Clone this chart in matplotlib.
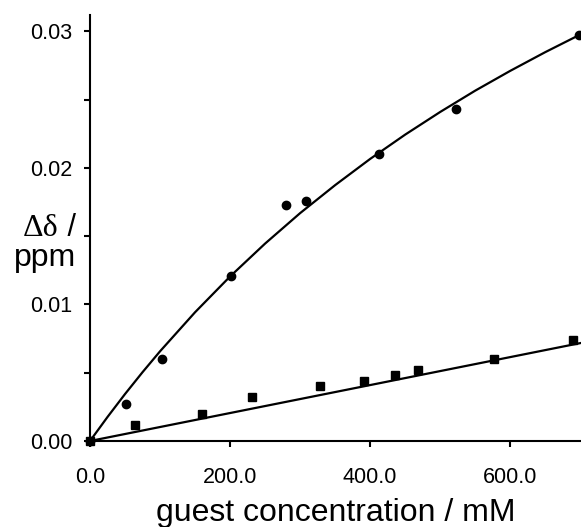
import matplotlib
matplotlib.use("Agg")
import matplotlib.pyplot as plt
from matplotlib.ticker import FormatStrFormatter, MultipleLocator

plt.rcParams["font.family"] = ["Liberation Sans", "DejaVu Sans"]

# circles (upper series)
circ_x = [0, 52, 103, 201, 280, 308, 412, 522, 698]
circ_y = [0.0, 0.0027, 0.0060, 0.0121, 0.0173, 0.0176, 0.0210, 0.0243, 0.0297]

# fitted curve through the circles
fit_x = [0, 25, 50, 75, 100, 150, 200, 250, 300, 350, 400, 450, 500, 550, 600, 650, 698]
fit_y = [0.0, 0.00176, 0.00344, 0.00504, 0.00657, 0.00943, 0.01205, 0.01446, 0.01669,
         0.01874, 0.02066, 0.02244, 0.0241, 0.02566, 0.02711, 0.02848, 0.02972]

# squares (lower series)
sq_x = [0, 64, 160, 231, 328, 391, 435, 468, 577, 690]
sq_y = [0.0, 0.0012, 0.0020, 0.0032, 0.0040, 0.0044, 0.0048, 0.0052, 0.0060, 0.0074]
sq_fit_x = [0, 700]
sq_fit_y = [0.0, 0.00717]

fig = plt.figure(figsize=(5.81, 5.27), dpi=100)
ax = fig.add_axes([90 / 581, 1 - 441 / 527, 491 / 581, 426 / 527])

ax.plot(fit_x, fit_y, color="black", lw=1.6)
ax.plot(sq_fit_x, sq_fit_y, color="black", lw=1.6)
ax.plot(circ_x, circ_y, "o", color="black", ms=6, clip_on=False)
ax.plot(sq_x, sq_y, "s", color="black", ms=5.5, clip_on=False)

ax.set_xlim(0, 701)
ax.set_ylim(0, 0.0312)
for s in ["top", "right"]:
    ax.spines[s].set_visible(False)
for s in ["left", "bottom"]:
    ax.spines[s].set_linewidth(1.5)

ax.xaxis.set_major_locator(MultipleLocator(200))
ax.xaxis.set_major_formatter(FormatStrFormatter("%.1f"))
ax.yaxis.set_major_locator(MultipleLocator(0.01))
ax.yaxis.set_minor_locator(MultipleLocator(0.005))
ax.yaxis.set_major_formatter(FormatStrFormatter("%.2f"))
ax.tick_params(axis="both", which="both", direction="out", length=4.5, width=1.5, labelsize=15.5)
ax.tick_params(axis="x", pad=14.5)
ax.tick_params(axis="y", pad=8)

ax.set_xlabel("guest concentration / mM", fontsize=23, labelpad=7)

fig.text(58 / 581, 1 - 228 / 527, "Δδ", family=["Liberation Serif", "DejaVu Serif"],
         fontsize=23, ha="right", va="center")
fig.text(59 / 581, 1 - 228 / 527, " /", fontsize=22, ha="left", va="center")
fig.text(45 / 581, 1 - 258 / 527, "ppm", fontsize=23, ha="center", va="center")

fig.savefig("out.png", dpi=100)
